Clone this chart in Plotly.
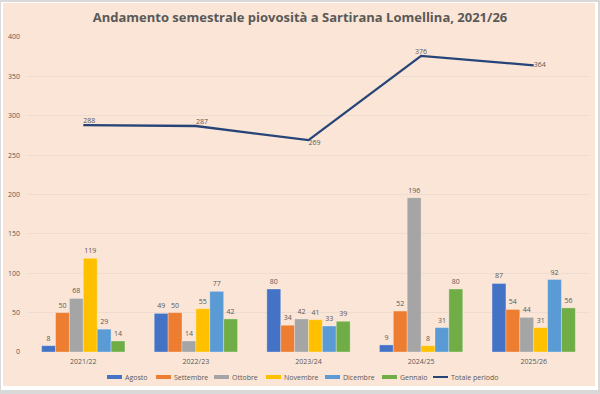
import plotly.graph_objects as go

categories = ["2021/22", "2022/23", "2023/24", "2024/25", "2025/26"]
agosto = [8, 49, 80, 9, 87]
settembre = [50, 50, 34, 52, 54]
ottobre = [68, 14, 42, 196, 44]
novembre = [119, 55, 41, 8, 31]
dicembre = [29, 77, 33, 31, 92]
gennaio = [14, 42, 39, 80, 56]
totale = [288, 287, 269, 376, 364]
y_ticks = [0, 50, 100, 150, 200, 250, 300, 350, 400]

series = [
    ("Agosto", agosto, "#4472C4"),
    ("Settembre", settembre, "#ED7D31"),
    ("Ottobre", ottobre, "#A5A5A5"),
    ("Novembre", novembre, "#FFC000"),
    ("Dicembre", dicembre, "#5B9BD5"),
    ("Gennaio", gennaio, "#70AD47"),
]
LINE_NAME, LINE_COL = "Totale periodo", "#264478"

FONT = "Open Sans"
TXT = "#595959"

fig = go.Figure()
for name, vals, col in series:
    fig.add_trace(go.Bar(
        x=categories, y=vals, name=name, marker_color=col,
        marker_line=dict(color="rgba(255,255,255,0.5)", width=0.6),
        text=vals, textposition="outside", cliponaxis=False,
        textfont=dict(size=7, color=TXT, family=FONT),
    ))

fig.add_trace(go.Scatter(
    x=categories, y=totale, name=LINE_NAME, mode="lines+text",
    line=dict(color=LINE_COL, width=2.3),
    text=totale,
    textposition=["top right", "top right", "bottom right", "top center", "middle right"],
    textfont=dict(size=7, color=TXT, family=FONT), cliponaxis=False,
))

W, H = 600, 394
ml, mr, mt, mb = 27, 10, 37, 42
pw, ph = W - ml - mr, H - mt - mb

def px(x):
    return (x - ml) / pw

def py(y):
    return 1 - (y - mt) / ph

shapes = [
    dict(type="rect", xref="paper", yref="paper", layer="below",
         x0=px(0), x1=px(W), y0=py(H), y1=py(0),
         fillcolor="#D9D9D9", line_width=0),
    dict(type="rect", xref="paper", yref="paper", layer="below",
         x0=px(1), x1=px(598), y0=py(390), y1=py(2),
         fillcolor="#FFFFFF", line_width=0),
    dict(type="rect", xref="paper", yref="paper", layer="below",
         x0=px(3), x1=px(595), y0=py(386), y1=py(3),
         fillcolor="#FBE5D6", line_width=0),
]
annotations = []

# custom legend (symbol start x positions in pixels)
legend_items = [(n, c) for n, _, c in series] + [(LINE_NAME, LINE_COL)]
legend_x = [107, 156, 214, 266, 325, 382, 433]
ly = 377
for (name, col), x0 in zip(legend_items, legend_x):
    if name == LINE_NAME:
        shapes.append(dict(type="line", xref="paper", yref="paper",
                           x0=px(x0), x1=px(x0 + 15), y0=py(ly), y1=py(ly),
                           line=dict(color=col, width=2)))
    else:
        shapes.append(dict(type="rect", xref="paper", yref="paper",
                           x0=px(x0), x1=px(x0 + 15), y0=py(ly + 2), y1=py(ly - 2),
                           fillcolor=col, line_width=0))
    annotations.append(dict(text=name, xref="paper", yref="paper",
                            x=px(x0 + 16), y=py(ly), xanchor="left", yanchor="middle",
                            showarrow=False, font=dict(size=7, color=TXT, family=FONT)))

fig.update_layout(
    width=W, height=H,
    margin=dict(l=ml, r=mr, t=mt, b=mb, autoexpand=False),
    paper_bgcolor="#FBE5D6", plot_bgcolor="rgba(0,0,0,0)",
    barmode="group", bargap=0.26, bargroupgap=0,
    shapes=shapes, annotations=annotations,
    title=dict(text="<b>Andamento semestrale piovosità a Sartirana Lomellina, 2021/26</b>",
               x=0.5, xref="container", xanchor="center", y=1 - 17 / H, yanchor="middle",
               font=dict(size=13, color=TXT, family=FONT)),
    font=dict(family=FONT, color=TXT, size=7),
    showlegend=False,
    hovermode=False,
    xaxis=dict(showgrid=False, showline=False, ticks="", automargin=False,
               tickfont=dict(size=7, color=TXT), ticklabelstandoff=4),
    yaxis=dict(range=[0, 400], tickvals=y_ticks, showgrid=True, gridcolor="#EFDCD0",
               gridwidth=1, zeroline=False, ticks="", automargin=False,
               tickfont=dict(size=7, color=TXT), ticklabelstandoff=6),
)

fig.write_html("out.html", config={"displayModeBar": False},
               post_script="document.body.style.margin='0';document.body.style.overflow='hidden';")
